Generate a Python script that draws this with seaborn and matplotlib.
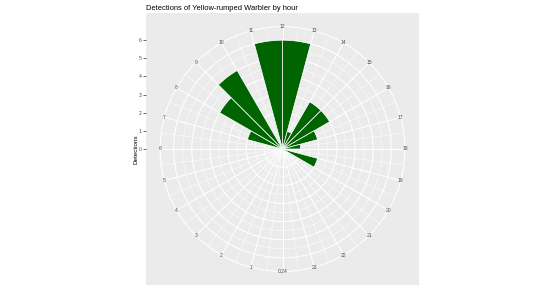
import numpy as np
import pandas as pd
import matplotlib
matplotlib.use("Agg")
import matplotlib.pyplot as plt
import seaborn as sns
from matplotlib.ticker import FixedLocator

# ---- data ----
hours = [7, 8, 9, 11, 12, 13, 14, 15, 16, 17, 19]
detections = [2, 4, 5, 6, 6, 1, 3, 3, 2, 1, 2]
hour_labels = ["0/24"] + [str(h) for h in range(1, 24)]
r_ticks = [0, 1, 2, 3, 4, 5, 6]
title = "Detections of Yellow-rumped Warbler by hour"
y_title = "Detections"

sns.set_theme(style="white")
plt.rcParams["font.family"] = ["Liberation Sans", "DejaVu Sans"]

W, H = 553, 300
fig = plt.figure(figsize=(W / 100, H / 100), dpi=100)

# panel box in pixels
px0, py0, px1, py1 = 146, 13, 419, 285
pw, ph = px1 - px0, py1 - py0
rect = [px0 / W, (H - py1) / H, pw / W, ph / H]

r_max = max(r_ticks)
r_outer = r_max * 0.45 / 0.4
half = r_max * 0.5 / 0.4

# background (grey panel + radial axis ticks)
bax = fig.add_axes(rect)
bax.set_facecolor("#EBEBEB")
bax.set_xlim(-half, half)
bax.set_ylim(-half, half)
for s in bax.spines.values():
    s.set_visible(False)
bax.set_xticks([])
bax.set_yticks(r_ticks)
bax.set_yticklabels([str(t) for t in r_ticks], fontsize=3.6, color="#4D4D4D")
bax.tick_params(axis="y", length=2, width=0.5, color="#333333", pad=1, left=True)
bax.set_ylabel(y_title, fontsize=4.5, color="black")
bax.yaxis.set_label_coords(-0.028, 0.5)
bax.set_title(title, loc="left", fontsize=5.4, pad=2.5, color="black")

# polar axes overlay
f = 0.45 / 0.5
prect = [rect[0] + rect[2] * (1 - f) / 2, rect[1] + rect[3] * (1 - f) / 2,
         rect[2] * f, rect[3] * f]
pax = fig.add_axes(prect, projection="polar")
pax.set_facecolor("none")
pax.set_theta_zero_location("S")
pax.set_theta_direction(-1)
pax.set_axisbelow(True)

df = pd.DataFrame({"hour": hours, "detections": detections})
df["theta"] = (df["hour"] + 0.5) * 2 * np.pi / 24

sns.histplot(data=df, x="theta", weights="detections", bins=24,
             binrange=(0, 2 * np.pi), ax=pax, color="#006400",
             edgecolor="white", linewidth=0.5, alpha=1.0)

pax.set_xlabel("")
pax.set_ylabel("")
pax.set_xlim(0, 2 * np.pi)
pax.set_ylim(0, r_outer)
pax.set_xticks(np.arange(24) * 2 * np.pi / 24)
pax.set_xticklabels([])
pax.xaxis.set_minor_locator(FixedLocator((np.arange(24) + 0.5) * 2 * np.pi / 24))
pax.set_yticks(r_ticks)
pax.set_yticklabels([])
pax.yaxis.set_minor_locator(FixedLocator(np.arange(0.5, r_max, 1.0)))
pax.tick_params(which="both", length=0)
pax.grid(True, which="major", color="white", linewidth=0.75)
pax.grid(True, which="minor", color="white", linewidth=0.35)
pax.spines["polar"].set_color("white")
pax.spines["polar"].set_linewidth(0.75)

for i, lab in enumerate(hour_labels):
    pax.text(i * 2 * np.pi / 24, r_outer, lab, ha="center", va="center",
             fontsize=3.6, color="#4D4D4D", clip_on=False)

fig.savefig("out.png", dpi=100)
